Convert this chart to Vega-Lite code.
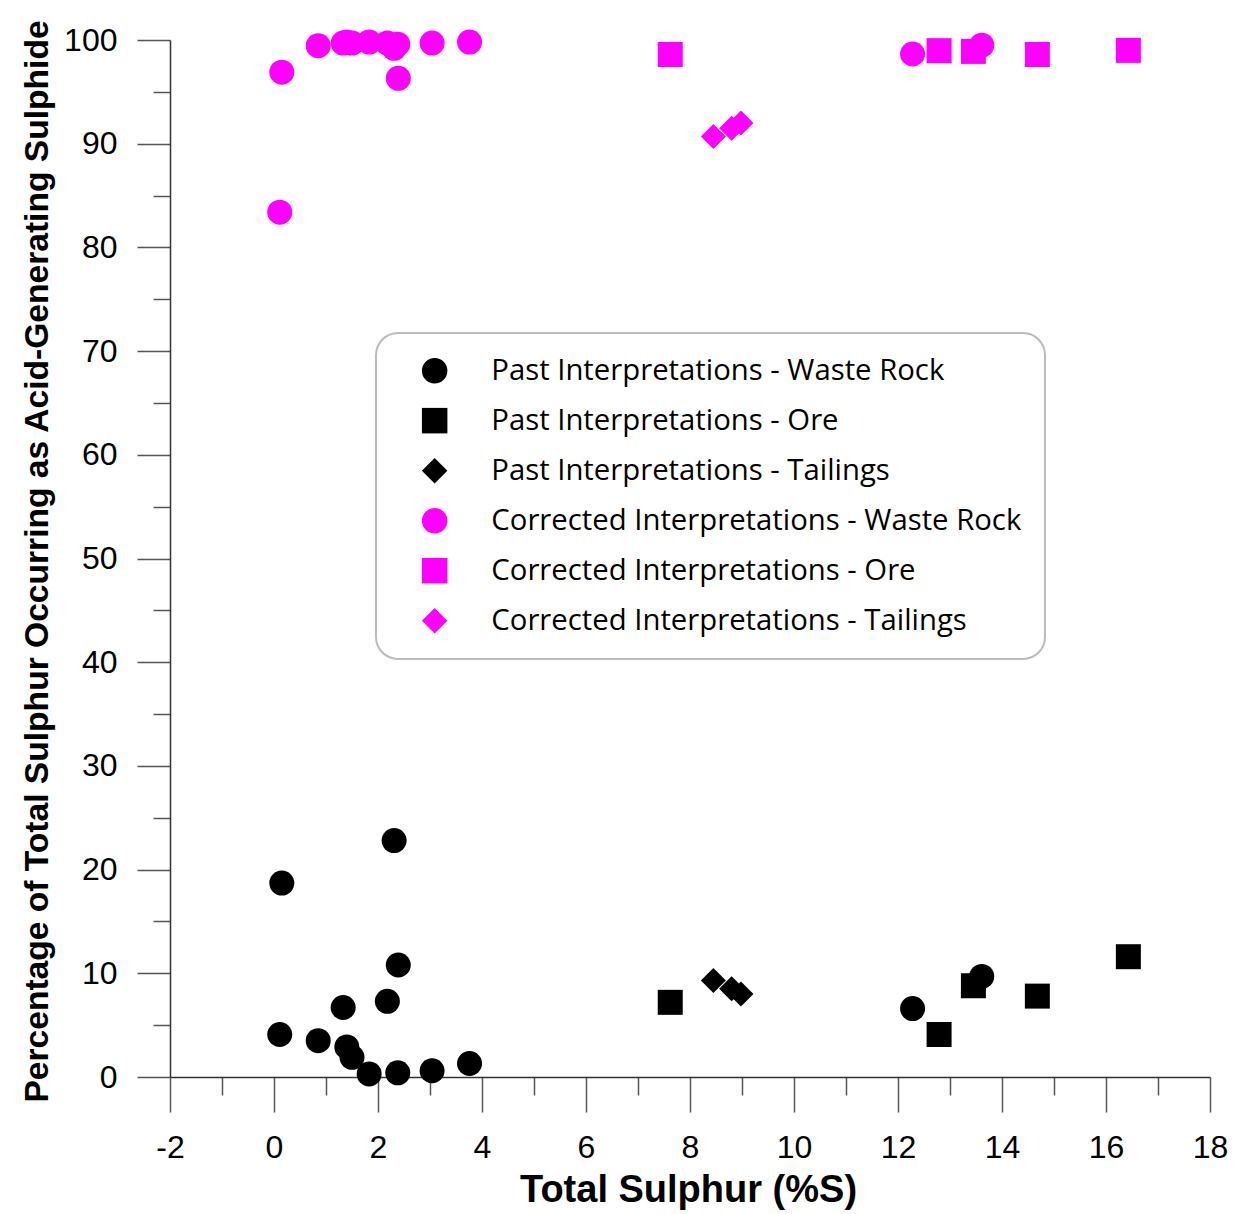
{
  "$schema": "https://vega.github.io/schema/vega-lite/v6.json",
  "width": 1040,
  "height": 1037,
  "autosize": {"type": "none"},
  "padding": {"left": 170, "top": 40, "right": 27, "bottom": 137},
  "background": "white",
  "config": {"view": {"stroke": null}, "font": "Liberation Sans", "legend": {"strokeWidth": 2}},
  "data": {
    "values": [
      {"x": 0.15, "y": 18.7, "series": "Past Interpretations - Waste Rock"},
      {"x": 2.31, "y": 22.8, "series": "Past Interpretations - Waste Rock"},
      {"x": 2.39, "y": 10.8, "series": "Past Interpretations - Waste Rock"},
      {"x": 1.33, "y": 6.7, "series": "Past Interpretations - Waste Rock"},
      {"x": 2.18, "y": 7.3, "series": "Past Interpretations - Waste Rock"},
      {"x": 0.11, "y": 4.1, "series": "Past Interpretations - Waste Rock"},
      {"x": 0.85, "y": 3.5, "series": "Past Interpretations - Waste Rock"},
      {"x": 1.40, "y": 2.9, "series": "Past Interpretations - Waste Rock"},
      {"x": 1.50, "y": 1.9, "series": "Past Interpretations - Waste Rock"},
      {"x": 1.83, "y": 0.3, "series": "Past Interpretations - Waste Rock"},
      {"x": 2.38, "y": 0.4, "series": "Past Interpretations - Waste Rock"},
      {"x": 3.04, "y": 0.6, "series": "Past Interpretations - Waste Rock"},
      {"x": 3.76, "y": 1.3, "series": "Past Interpretations - Waste Rock"},
      {"x": 12.28, "y": 6.6, "series": "Past Interpretations - Waste Rock"},
      {"x": 13.61, "y": 9.7, "series": "Past Interpretations - Waste Rock"},
      {"x": 7.62, "y": 7.2, "series": "Past Interpretations - Ore"},
      {"x": 12.79, "y": 4.1, "series": "Past Interpretations - Ore"},
      {"x": 13.45, "y": 8.8, "series": "Past Interpretations - Ore"},
      {"x": 14.68, "y": 7.8, "series": "Past Interpretations - Ore"},
      {"x": 16.43, "y": 11.6, "series": "Past Interpretations - Ore"},
      {"x": 8.45, "y": 9.3, "series": "Past Interpretations - Tailings"},
      {"x": 8.80, "y": 8.5, "series": "Past Interpretations - Tailings"},
      {"x": 8.98, "y": 8.0, "series": "Past Interpretations - Tailings"},
      {"x": 0.15, "y": 96.9, "series": "Corrected Interpretations - Waste Rock"},
      {"x": 0.11, "y": 83.4, "series": "Corrected Interpretations - Waste Rock"},
      {"x": 0.85, "y": 99.45, "series": "Corrected Interpretations - Waste Rock"},
      {"x": 1.33, "y": 99.7, "series": "Corrected Interpretations - Waste Rock"},
      {"x": 1.40, "y": 99.8, "series": "Corrected Interpretations - Waste Rock"},
      {"x": 1.50, "y": 99.7, "series": "Corrected Interpretations - Waste Rock"},
      {"x": 1.83, "y": 99.8, "series": "Corrected Interpretations - Waste Rock"},
      {"x": 2.18, "y": 99.7, "series": "Corrected Interpretations - Waste Rock"},
      {"x": 2.31, "y": 99.2, "series": "Corrected Interpretations - Waste Rock"},
      {"x": 2.38, "y": 99.6, "series": "Corrected Interpretations - Waste Rock"},
      {"x": 2.39, "y": 96.3, "series": "Corrected Interpretations - Waste Rock"},
      {"x": 3.04, "y": 99.7, "series": "Corrected Interpretations - Waste Rock"},
      {"x": 3.76, "y": 99.8, "series": "Corrected Interpretations - Waste Rock"},
      {"x": 12.28, "y": 98.65, "series": "Corrected Interpretations - Waste Rock"},
      {"x": 13.61, "y": 99.5, "series": "Corrected Interpretations - Waste Rock"},
      {"x": 7.62, "y": 98.6, "series": "Corrected Interpretations - Ore"},
      {"x": 12.79, "y": 98.97, "series": "Corrected Interpretations - Ore"},
      {"x": 13.45, "y": 98.9, "series": "Corrected Interpretations - Ore"},
      {"x": 14.68, "y": 98.6, "series": "Corrected Interpretations - Ore"},
      {"x": 16.43, "y": 99.0, "series": "Corrected Interpretations - Ore"},
      {"x": 8.45, "y": 90.7, "series": "Corrected Interpretations - Tailings"},
      {"x": 8.80, "y": 91.5, "series": "Corrected Interpretations - Tailings"},
      {"x": 8.98, "y": 92.0, "series": "Corrected Interpretations - Tailings"}
    ]
  },
  "layer": [
    {
      "mark": {"type": "point", "filled": true, "opacity": 0},
      "encoding": {
        "x": {
          "field": "x", "type": "quantitative",
          "scale": {"domain": [-2, 18], "nice": false, "zero": false},
          "axis": {"orient": "bottom", "values": [-1, 1, 3, 5, 7, 9, 11, 13, 15, 17], "tickSize": 18, "tickColor": "#555555", "tickWidth": 1.5, "labels": false, "domain": false, "grid": false, "title": null}
        },
        "y": {
          "field": "y", "type": "quantitative",
          "scale": {"domain": [0, 100], "nice": false, "zero": true},
          "axis": {"orient": "left", "values": [5, 15, 25, 35, 45, 55, 65, 75, 85, 95], "tickSize": 17, "tickColor": "#555555", "tickWidth": 1.5, "labels": false, "domain": false, "grid": false, "title": null}
        }
      }
    },
    {
      "mark": {"type": "point", "filled": true, "opacity": 1, "size": 625},
      "encoding": {
        "x": {
          "field": "x", "type": "quantitative",
          "axis": {"orient": "bottom", "values": [-2, 0, 2, 4, 6, 8, 10, 12, 14, 16, 18], "labelExpr": "toString(datum.value)", "tickSize": 35, "tickColor": "#555555", "tickWidth": 1.5, "domainColor": "#333333", "domainWidth": 1.5, "grid": false, "labelFont": "Liberation Sans", "labelFontSize": 32, "labelColor": "black", "labelPadding": 20, "labelFlush": false, "labelOverlap": false, "title": "Total Sulphur (%S)", "titleFont": "Liberation Sans", "titleFontSize": 38, "titleFontWeight": "bold", "titleColor": "black", "titleX": 518, "titleY": 113, "titleAlign": "center", "titleBaseline": "middle"}
        },
        "y": {
          "field": "y", "type": "quantitative",
          "axis": {"orient": "left", "values": [0, 10, 20, 30, 40, 50, 60, 70, 80, 90, 100], "tickSize": 33, "tickColor": "#555555", "tickWidth": 1.5, "domainColor": "#333333", "domainWidth": 1.5, "grid": false, "labelFont": "Liberation Sans", "labelFontSize": 32, "labelColor": "black", "labelPadding": 20, "labelFlush": false, "labelOverlap": false, "title": "Percentage of Total Sulphur Occurring as Acid-Generating Sulphide", "titleFont": "Liberation Sans", "titleFontSize": 33.6, "titleFontWeight": "bold", "titleColor": "black", "titleX": -133, "titleY": 521, "titleAngle": -90, "titleAlign": "center", "titleBaseline": "middle"}
        },
        "color": {
          "field": "series", "type": "nominal",
          "scale": {
            "domain": ["Past Interpretations - Waste Rock", "Past Interpretations - Ore", "Past Interpretations - Tailings", "Corrected Interpretations - Waste Rock", "Corrected Interpretations - Ore", "Corrected Interpretations - Tailings"],
            "range": ["#000000", "#000000", "#000000", "#ff00ff", "#ff00ff", "#ff00ff"]
          },
          "legend": {"orient": "none", "legendX": 206, "legendY": 293, "title": null, "padding": 23, "strokeColor": "#bbbbbb", "cornerRadius": 22, "fillColor": "white", "symbolSize": 650, "labelFont": "Open Sans", "labelFontSize": 29.3, "labelColor": "black", "rowPadding": 20, "symbolOffset": 21, "labelOffset": 42, "labelLimit": 1000}
        },
        "shape": {
          "field": "series", "type": "nominal",
          "scale": {
            "domain": ["Past Interpretations - Waste Rock", "Past Interpretations - Ore", "Past Interpretations - Tailings", "Corrected Interpretations - Waste Rock", "Corrected Interpretations - Ore", "Corrected Interpretations - Tailings"],
            "range": ["circle", "square", "diamond", "circle", "square", "diamond"]
          },
          "legend": {"orient": "none", "legendX": 206, "legendY": 293, "title": null, "padding": 23, "strokeColor": "#bbbbbb", "cornerRadius": 22, "fillColor": "white", "symbolSize": 650, "labelFont": "Open Sans", "labelFontSize": 29.3, "labelColor": "black", "rowPadding": 20, "symbolOffset": 21, "labelOffset": 42, "labelLimit": 1000}
        }
      }
    }
  ],
  "resolve": {"axis": {"x": "independent", "y": "independent"}}
}
